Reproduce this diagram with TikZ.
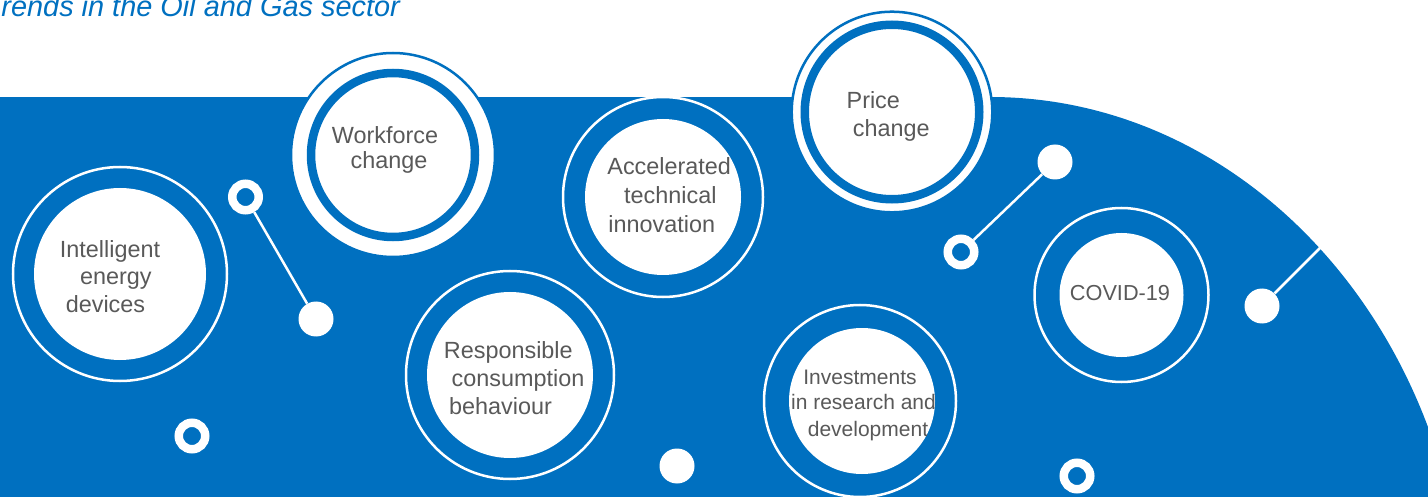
\documentclass[tikz,border=0pt]{standalone}
\usepackage{fontspec}
\setmainfont{Liberation Sans}
\definecolor{brandblue}{HTML}{0070C0}
\definecolor{txtgray}{HTML}{595959}
\begin{document}
\begin{tikzpicture}[x=1pt,y=-1pt,
  lbl/.style={text=txtgray, font=\fontsize{23.4}{28}\selectfont, anchor=base, inner sep=0pt},
  lblsmall/.style={lbl, font=\fontsize{21}{25}\selectfont},
  lblcovid/.style={lbl, font=\fontsize{21.7}{26}\selectfont},
  disk/.style={circle, fill=white, inner sep=0pt, minimum size=#1},
  ringA/.style={draw=white, line width=2.5pt},
  outerB/.style={circle, fill=white, draw=brandblue, line width=2.5pt, inner sep=0pt, minimum size=#1},
  ringB/.style={circle, draw=brandblue, line width=8.5pt, inner sep=0pt, minimum size=#1},
  dotfill/.style={circle, fill=white, inner sep=0pt, minimum size=35pt},
  dothole/.style={circle, draw=white, line width=8.5pt, inner sep=0pt, minimum size=26.5pt},
  link/.style={draw=white, line width=2.5pt}]
\useasboundingbox (0,0) rectangle (1428,497);
\clip (0,0) rectangle (1428,497);
% blue background
\fill[brandblue] (0,97) rectangle (990,497);
\fill[brandblue] (990,640) ellipse [x radius=476pt, y radius=543pt];
% title
\node[anchor=base east, text=brandblue, inner sep=0pt,
  font=\fontsize{28.9}{34}\selectfont\itshape] (title) at (400,16.7) {rends in the Oil and Gas sector};

% Intelligent energy devices
\node[disk=172pt] (intel) at (120,274) {};
\draw[ringA] (intel.center) circle[radius=107pt];
\node[lbl] (intel1) at (110,257.3) {Intelligent};
\node[lbl] (intel2) at (115.8,285) {energy};
\node[lbl] (intel3) at (105.5,312.3) {devices};

% Workforce change
\node[outerB=204pt] (workO) at (393,155) {};
\node[ringB=164pt] (work) at (workO.center) {};
\node[lbl] (work1) at (385,143.5) {Workforce};
\node[lbl] (work2) at (389,168.8) {change};

% Accelerated technical innovation
\node[disk=156pt] (accel) at (663,197) {};
\draw[ringA] (accel.center) circle[radius=100pt];
\node[lbl] (accel1) at (669.2,175) {Accelerated};
\node[lbl] (accel2) at (670.3,204) {technical};
\node[lbl] (accel3) at (661.7,232.7) {innovation};

% Price change
\node[outerB=200.6pt] (priceO) at (892,112) {};
\node[ringB=174.5pt] (price) at (priceO.center) {};
\node[lbl] (price1) at (873.3,108.3) {Price};
\node[lbl] (price2) at (891.3,136.7) {change};

% Responsible consumption behaviour
\node[disk=166pt] (resp) at (510,375) {};
\draw[ringA] (resp.center) circle[radius=104pt];
\node[lbl] (resp1) at (508.3,358.3) {Responsible};
\node[lbl] (resp2) at (518,386.7) {consumption};
\node[lbl] (resp3) at (500.5,414) {behaviour};

% Investments in research and development
\node[disk=146pt] (inv) at (862,401) {};
\draw[ringA] (860,401) circle[radius=96pt];
\begin{scope}
\clip (inv.center) circle[radius=73pt];
\node[lblsmall] (inv1) at (860,384) {Investments};
\node[lblsmall] (inv2) at (863.5,409.3) {in research and};
\node[lblsmall] (inv3) at (868,436.7) {development};
\end{scope}

% COVID-19
\node[disk=124pt] (covid) at (1121.5,295) {};
\draw[ringA] (covid.center) circle[radius=87pt];
\node[lblcovid] (covid1) at (1120,300.3) {COVID-19};

% small dots and links
\node[dothole] (h1) at (245.5,197) {};
\node[dotfill] (f1) at (316,319) {};
\draw[link] (h1) -- (f1);
\node[dothole] (h2) at (192,436) {};
\node[dotfill] (f2) at (677,466) {};
\node[dothole] (h3) at (961,252) {};
\node[dotfill] (f3) at (1055,162) {};
\draw[link] (h3) -- (f3);
\node[dotfill] (f4) at (1262,306) {};
\coordinate (edge4) at (1321,247);
\draw[link] (f4) -- (edge4);
\node[dothole] (h4) at (1077,476) {};
\end{tikzpicture}
\end{document}
